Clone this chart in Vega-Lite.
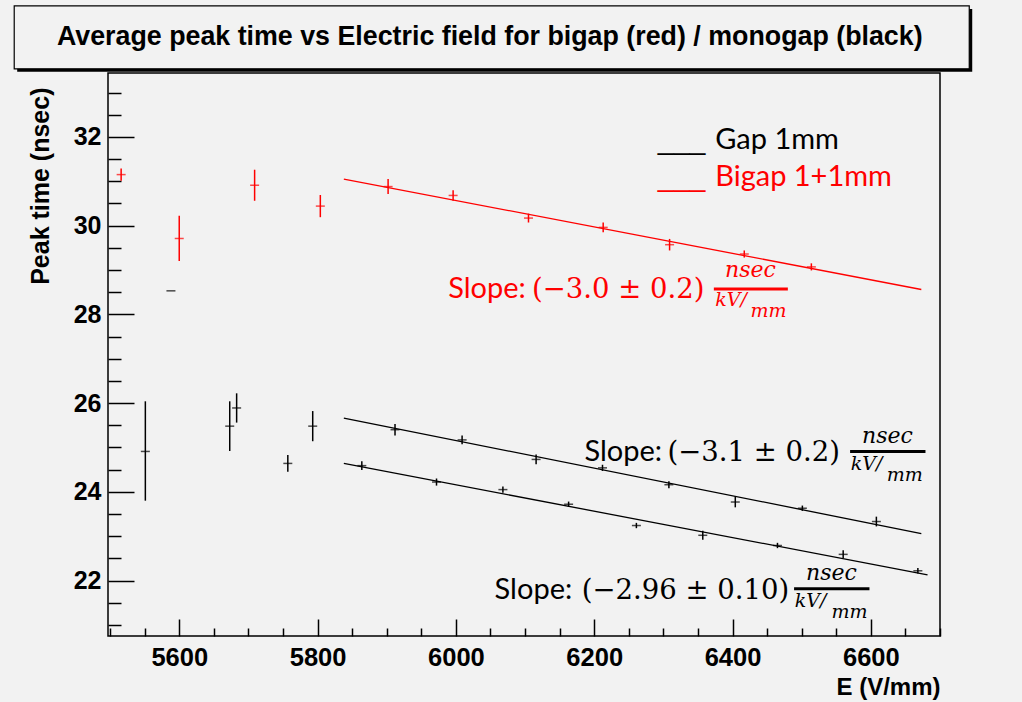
{
  "$schema": "https://vega.github.io/schema/vega-lite/v6.json",
  "width": 832,
  "height": 563,
  "autosize": {"type": "none"},
  "padding": {"left": 108, "top": 73, "right": 82, "bottom": 66},
  "background": "#f2f2f2",
  "config": {
    "view": {"stroke": "#000000", "strokeWidth": 1.5, "fill": "#f2f2f2"},
    "axis": {"grid": false, "domain": false, "tickColor": "#000000", "tickWidth": 1.5, "labelColor": "#000000", "titleColor": "#000000"}
  },
  "datasets": {
    "points": [
      {"series": "bigap", "group": "free", "E": 5516, "t": 31.15, "lo": 31.01, "hi": 31.29},
      {"series": "bigap", "group": "free", "E": 5600, "t": 29.71, "lo": 29.20, "hi": 30.22},
      {"series": "bigap", "group": "free", "E": 5709, "t": 30.91, "lo": 30.56, "hi": 31.26},
      {"series": "bigap", "group": "free", "E": 5804, "t": 30.44, "lo": 30.19, "hi": 30.69},
      {"series": "bigap", "group": "fit", "E": 5902, "t": 30.88, "lo": 30.71, "hi": 31.05},
      {"series": "bigap", "group": "fit", "E": 5996, "t": 30.68, "lo": 30.56, "hi": 30.80},
      {"series": "bigap", "group": "fit", "E": 6105, "t": 30.17, "lo": 30.07, "hi": 30.27},
      {"series": "bigap", "group": "fit", "E": 6213, "t": 29.96, "lo": 29.85, "hi": 30.07},
      {"series": "bigap", "group": "fit", "E": 6309, "t": 29.57, "lo": 29.44, "hi": 29.70},
      {"series": "bigap", "group": "fit", "E": 6417, "t": 29.36, "lo": 29.28, "hi": 29.44},
      {"series": "bigap", "group": "fit", "E": 6514, "t": 29.07, "lo": 28.99, "hi": 29.15},
      {"series": "monogap", "group": "free", "E": 5588, "t": 28.53, "lo": 28.53, "hi": 28.53},
      {"series": "monogap", "group": "free", "E": 5551, "t": 24.91, "lo": 23.80, "hi": 26.04},
      {"series": "monogap", "group": "free", "E": 5673, "t": 25.48, "lo": 24.92, "hi": 26.04},
      {"series": "monogap", "group": "free", "E": 5683, "t": 25.89, "lo": 25.56, "hi": 26.22},
      {"series": "monogap", "group": "free", "E": 5757, "t": 24.64, "lo": 24.45, "hi": 24.83},
      {"series": "monogap", "group": "free", "E": 5793, "t": 25.48, "lo": 25.14, "hi": 25.82},
      {"series": "monogap", "group": "upper", "E": 5912, "t": 25.40, "lo": 25.27, "hi": 25.53},
      {"series": "monogap", "group": "upper", "E": 6009, "t": 25.17, "lo": 25.07, "hi": 25.27},
      {"series": "monogap", "group": "upper", "E": 6116, "t": 24.73, "lo": 24.62, "hi": 24.84},
      {"series": "monogap", "group": "upper", "E": 6212, "t": 24.54, "lo": 24.47, "hi": 24.61},
      {"series": "monogap", "group": "upper", "E": 6308, "t": 24.16, "lo": 24.08, "hi": 24.24},
      {"series": "monogap", "group": "upper", "E": 6404, "t": 23.77, "lo": 23.65, "hi": 23.89},
      {"series": "monogap", "group": "upper", "E": 6501, "t": 23.63, "lo": 23.57, "hi": 23.69},
      {"series": "monogap", "group": "upper", "E": 6608, "t": 23.33, "lo": 23.22, "hi": 23.44},
      {"series": "monogap", "group": "lower", "E": 5864, "t": 24.59, "lo": 24.49, "hi": 24.69},
      {"series": "monogap", "group": "lower", "E": 5972, "t": 24.22, "lo": 24.14, "hi": 24.30},
      {"series": "monogap", "group": "lower", "E": 6068, "t": 24.05, "lo": 23.98, "hi": 24.12},
      {"series": "monogap", "group": "lower", "E": 6163, "t": 23.72, "lo": 23.66, "hi": 23.78},
      {"series": "monogap", "group": "lower", "E": 6261, "t": 23.24, "lo": 23.18, "hi": 23.30},
      {"series": "monogap", "group": "lower", "E": 6357, "t": 23.02, "lo": 22.92, "hi": 23.12},
      {"series": "monogap", "group": "lower", "E": 6465, "t": 22.79, "lo": 22.73, "hi": 22.85},
      {"series": "monogap", "group": "lower", "E": 6560, "t": 22.59, "lo": 22.50, "hi": 22.68},
      {"series": "monogap", "group": "lower", "E": 6668, "t": 22.22, "lo": 22.16, "hi": 22.28}
    ],
    "fits": [
      {"series": "bigap", "fit": "bigap", "E": 5838, "t": 31.05},
      {"series": "bigap", "fit": "bigap", "E": 6673, "t": 28.56},
      {"series": "monogap", "fit": "upper", "E": 5838, "t": 25.66},
      {"series": "monogap", "fit": "upper", "E": 6673, "t": 23.06},
      {"series": "monogap", "fit": "lower", "E": 5838, "t": 24.64},
      {"series": "monogap", "fit": "lower", "E": 6682, "t": 22.13}
    ],
    "labels": [
      {"kind": "sans", "series": "bigap", "E": 5989, "t": 28.37, "text": "Slope:"},
      {"kind": "sans", "series": "monogap", "E": 6186, "t": 24.70, "text": "Slope:"},
      {"kind": "sans", "series": "monogap", "E": 6056, "t": 21.59, "text": "Slope:"},
      {"kind": "uscore", "series": "monogap", "E": 6292, "t": 31.73, "text": "___"},
      {"kind": "uscore", "series": "bigap", "E": 6292, "t": 30.90, "text": "___"},
      {"kind": "sans", "series": "monogap", "E": 6375, "t": 31.73, "text": "Gap 1mm"},
      {"kind": "sans", "series": "bigap", "E": 6375, "t": 30.90, "text": "Bigap 1+1mm"},
      {"kind": "serif", "series": "bigap", "E": 6110, "t": 28.37, "text": "(−3.0 ± 0.2)"},
      {"kind": "serif", "series": "monogap", "E": 6306, "t": 24.70, "text": "(−3.1 ± 0.2)"},
      {"kind": "serif", "series": "monogap", "E": 6182, "t": 21.59, "text": "(−2.96 ± 0.10)"},
      {"kind": "num", "series": "bigap", "E": 6426, "t": 28.845, "text": "nsec"},
      {"kind": "num", "series": "monogap", "E": 6624, "t": 25.11, "text": "nsec"},
      {"kind": "num", "series": "monogap", "E": 6543, "t": 22.016, "text": "nsec"},
      {"kind": "den", "series": "bigap", "E": 6375, "t": 28.19, "text": "kV/"},
      {"kind": "den", "series": "bigap", "E": 6426, "t": 27.94, "text": "mm"},
      {"kind": "den", "series": "monogap", "E": 6571, "t": 24.495, "text": "kV/"},
      {"kind": "den", "series": "monogap", "E": 6623, "t": 24.254, "text": "mm"},
      {"kind": "den", "series": "monogap", "E": 6490, "t": 21.41, "text": "kV/"},
      {"kind": "den", "series": "monogap", "E": 6543, "t": 21.16, "text": "mm"}
    ],
    "bars": [
      {"series": "bigap", "E": 6373, "E2": 6480, "t": 28.574},
      {"series": "monogap", "E": 6570, "E2": 6679, "t": 24.907},
      {"series": "monogap", "E": 6489, "E2": 6598, "t": 21.813}
    ]
  },
  "layer": [
    {
      "data": {"values": [{"x1": 5365.7, "x2": 6746.6, "y1": 34.885, "y2": 33.466}]},
      "mark": {"type": "rect", "fill": "#000000"},
      "encoding": {
        "x": {"field": "x1", "type": "quantitative", "scale": {"domain": [5497, 6700], "nice": false, "zero": false}, "axis": null},
        "x2": {"field": "x2"},
        "y": {"field": "y1", "type": "quantitative", "scale": {"domain": [20.75, 33.44], "nice": false, "zero": false}, "axis": null},
        "y2": {"field": "y2"}
      }
    },
    {
      "data": {"values": [{"x1": 5361.4, "x2": 6742.3, "y1": 34.952, "y2": 33.533}]},
      "mark": {"type": "rect", "fill": "#f2f2f2", "stroke": "#000000", "strokeWidth": 1.2},
      "encoding": {
        "x": {"field": "x1", "type": "quantitative", "scale": {"domain": [5497, 6700], "nice": false, "zero": false}, "axis": null},
        "x2": {"field": "x2"},
        "y": {"field": "y1", "type": "quantitative", "scale": {"domain": [20.75, 33.44], "nice": false, "zero": false}, "axis": null},
        "y2": {"field": "y2"}
      }
    },
    {
      "data": {"values": [{"x": 6049, "y": 34.07, "text": "Average peak time vs Electric field for bigap (red) / monogap (black)"}]},
      "mark": {"type": "text", "align": "center", "baseline": "alphabetic", "font": "Liberation Sans", "fontWeight": "bold", "fontSize": 26.8, "color": "#000000"},
      "encoding": {
        "x": {"field": "x", "type": "quantitative", "scale": {"domain": [5497, 6700], "nice": false, "zero": false}, "axis": null},
        "y": {"field": "y", "type": "quantitative", "scale": {"domain": [20.75, 33.44], "nice": false, "zero": false}, "axis": null},
        "text": {"field": "text"}
      }
    },
    {
      "data": {"values": [{"E": 5600, "t": 22}]},
      "mark": {"type": "point", "opacity": 0},
      "encoding": {
        "x": {"field": "E", "type": "quantitative", "scale": {"domain": [5497, 6700], "nice": false, "zero": false},
          "axis": {"orient": "bottom", "values": [5600, 5800, 6000, 6200, 6400, 6600], "format": "d", "tickSize": -17, "labelPadding": 26, "labelFont": "Liberation Sans", "labelFontWeight": "bold", "labelFontSize": 25.5,
            "title": "E (V/mm)", "titleAnchor": "end", "titleAlign": "right", "titleFont": "Liberation Sans", "titleFontWeight": "bold", "titleFontSize": 24, "titlePadding": 5}},
        "y": {"field": "t", "type": "quantitative", "scale": {"domain": [20.75, 33.44], "nice": false, "zero": false},
          "axis": {"orient": "left", "values": [22, 24, 26, 28, 30, 32], "format": "d", "tickSize": -26, "labelPadding": 33, "labelFont": "Liberation Sans", "labelFontWeight": "bold", "labelFontSize": 25,
            "title": "Peak time (nsec)", "titleAnchor": "end", "titleY": 14, "titleFont": "Liberation Sans", "titleFontWeight": "bold", "titleFontSize": 25, "titlePadding": 20}}
      }
    },
    {
      "data": {"values": [{"E": 5600, "t": 22}]},
      "mark": {"type": "point", "opacity": 0},
      "encoding": {
        "x": {"field": "E", "type": "quantitative", "scale": {"domain": [5497, 6700], "nice": false, "zero": false},
          "axis": {"orient": "bottom", "values": [5500, 5550, 5650, 5700, 5750, 5850, 5900, 5950, 6050, 6100, 6150, 6250, 6300, 6350, 6450, 6500, 6550, 6650, 6700], "tickSize": -8, "labels": false, "title": null}},
        "y": {"field": "t", "type": "quantitative", "scale": {"domain": [20.75, 33.44], "nice": false, "zero": false},
          "axis": {"orient": "left", "values": [21, 21.5, 22.5, 23, 23.5, 24.5, 25, 25.5, 26.5, 27, 27.5, 28.5, 29, 29.5, 30.5, 31, 31.5, 32.5, 33], "tickSize": -13, "labels": false, "title": null}}
      }
    },
    {
      "data": {"name": "fits"},
      "mark": {"type": "line", "strokeWidth": 1.3},
      "encoding": {
        "x": {"field": "E", "type": "quantitative", "scale": {"domain": [5497, 6700], "nice": false, "zero": false}, "axis": null},
        "y": {"field": "t", "type": "quantitative", "scale": {"domain": [20.75, 33.44], "nice": false, "zero": false}, "axis": null},
        "detail": {"field": "fit"},
        "color": {"field": "series", "type": "nominal", "scale": {"domain": ["bigap", "monogap"], "range": ["#ff0000", "#000000"]}, "legend": null}
      }
    },
    {
      "data": {"name": "points"},
      "mark": {"type": "rule", "strokeWidth": 1.5},
      "encoding": {
        "x": {"field": "E", "type": "quantitative", "scale": {"domain": [5497, 6700], "nice": false, "zero": false}, "axis": null},
        "y": {"field": "lo", "type": "quantitative", "scale": {"domain": [20.75, 33.44], "nice": false, "zero": false}, "axis": null},
        "y2": {"field": "hi"},
        "color": {"field": "series", "type": "nominal", "scale": {"domain": ["bigap", "monogap"], "range": ["#ff0000", "#000000"]}, "legend": null}
      }
    },
    {
      "data": {"name": "points"},
      "mark": {"type": "tick", "orient": "horizontal", "size": 9, "thickness": 1.5},
      "encoding": {
        "x": {"field": "E", "type": "quantitative", "scale": {"domain": [5497, 6700], "nice": false, "zero": false}, "axis": null},
        "y": {"field": "t", "type": "quantitative", "scale": {"domain": [20.75, 33.44], "nice": false, "zero": false}, "axis": null},
        "color": {"field": "series", "type": "nominal", "scale": {"domain": ["bigap", "monogap"], "range": ["#ff0000", "#000000"]}, "legend": null}
      }
    },
    {
      "data": {"name": "labels"},
      "transform": [{"filter": "datum.kind === 'sans'"}],
      "mark": {"type": "text", "align": "left", "baseline": "alphabetic", "font": "Lato", "fontSize": 29},
      "encoding": {
        "x": {"field": "E", "type": "quantitative", "scale": {"domain": [5497, 6700], "nice": false, "zero": false}, "axis": null},
        "y": {"field": "t", "type": "quantitative", "scale": {"domain": [20.75, 33.44], "nice": false, "zero": false}, "axis": null},
        "text": {"field": "text"},
        "color": {"field": "series", "type": "nominal", "scale": {"domain": ["bigap", "monogap"], "range": ["#ff0000", "#000000"]}, "legend": null}
      }
    },
    {
      "data": {"name": "labels"},
      "transform": [{"filter": "datum.kind === 'uscore'"}],
      "mark": {"type": "text", "align": "left", "baseline": "alphabetic", "font": "Liberation Sans", "fontSize": 28.5},
      "encoding": {
        "x": {"field": "E", "type": "quantitative", "scale": {"domain": [5497, 6700], "nice": false, "zero": false}, "axis": null},
        "y": {"field": "t", "type": "quantitative", "scale": {"domain": [20.75, 33.44], "nice": false, "zero": false}, "axis": null},
        "text": {"field": "text"},
        "color": {"field": "series", "type": "nominal", "scale": {"domain": ["bigap", "monogap"], "range": ["#ff0000", "#000000"]}, "legend": null}
      }
    },
    {
      "data": {"name": "labels"},
      "transform": [{"filter": "datum.kind === 'serif'"}],
      "mark": {"type": "text", "align": "left", "baseline": "alphabetic", "font": "DejaVu Serif", "fontSize": 27.5},
      "encoding": {
        "x": {"field": "E", "type": "quantitative", "scale": {"domain": [5497, 6700], "nice": false, "zero": false}, "axis": null},
        "y": {"field": "t", "type": "quantitative", "scale": {"domain": [20.75, 33.44], "nice": false, "zero": false}, "axis": null},
        "text": {"field": "text"},
        "color": {"field": "series", "type": "nominal", "scale": {"domain": ["bigap", "monogap"], "range": ["#ff0000", "#000000"]}, "legend": null}
      }
    },
    {
      "data": {"name": "labels"},
      "transform": [{"filter": "datum.kind === 'num'"}],
      "mark": {"type": "text", "align": "center", "baseline": "alphabetic", "font": "DejaVu Serif", "fontStyle": "italic", "fontSize": 22},
      "encoding": {
        "x": {"field": "E", "type": "quantitative", "scale": {"domain": [5497, 6700], "nice": false, "zero": false}, "axis": null},
        "y": {"field": "t", "type": "quantitative", "scale": {"domain": [20.75, 33.44], "nice": false, "zero": false}, "axis": null},
        "text": {"field": "text"},
        "color": {"field": "series", "type": "nominal", "scale": {"domain": ["bigap", "monogap"], "range": ["#ff0000", "#000000"]}, "legend": null}
      }
    },
    {
      "data": {"name": "labels"},
      "transform": [{"filter": "datum.kind === 'den'"}],
      "mark": {"type": "text", "align": "left", "baseline": "alphabetic", "font": "DejaVu Serif", "fontStyle": "italic", "fontSize": 19},
      "encoding": {
        "x": {"field": "E", "type": "quantitative", "scale": {"domain": [5497, 6700], "nice": false, "zero": false}, "axis": null},
        "y": {"field": "t", "type": "quantitative", "scale": {"domain": [20.75, 33.44], "nice": false, "zero": false}, "axis": null},
        "text": {"field": "text"},
        "color": {"field": "series", "type": "nominal", "scale": {"domain": ["bigap", "monogap"], "range": ["#ff0000", "#000000"]}, "legend": null}
      }
    },
    {
      "data": {"name": "bars"},
      "mark": {"type": "rule", "strokeWidth": 3},
      "encoding": {
        "x": {"field": "E", "type": "quantitative", "scale": {"domain": [5497, 6700], "nice": false, "zero": false}, "axis": null},
        "x2": {"field": "E2"},
        "y": {"field": "t", "type": "quantitative", "scale": {"domain": [20.75, 33.44], "nice": false, "zero": false}, "axis": null},
        "color": {"field": "series", "type": "nominal", "scale": {"domain": ["bigap", "monogap"], "range": ["#ff0000", "#000000"]}, "legend": null}
      }
    }
  ],
  "resolve": {"axis": {"x": "independent", "y": "independent"}}
}
